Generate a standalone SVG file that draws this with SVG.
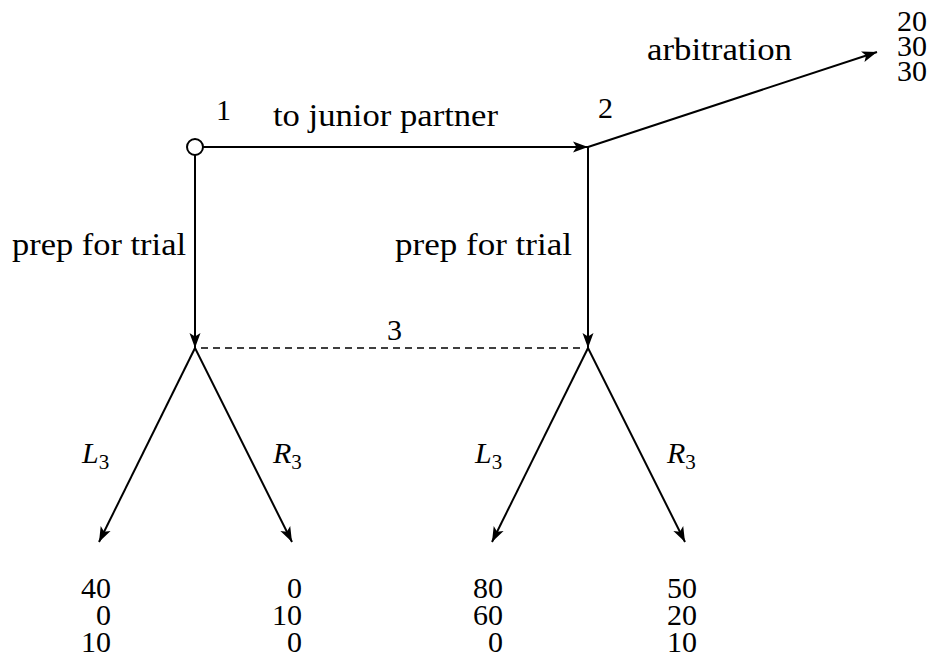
<svg xmlns="http://www.w3.org/2000/svg" width="931" height="659" viewBox="0 0 931 659" font-family="Liberation Serif, serif" font-size="30">
<style>
text{font-size:30px;fill:#000}
.lb{font-size:31px}
.e{stroke:#000;stroke-width:2;fill:none}
.arr{marker-end:url(#ah)}
.d{stroke:#000;stroke-width:1.3;stroke-dasharray:7 5;fill:none}
.it{font-style:italic}
.sub{font-size:21px;font-style:normal}
.r{text-anchor:end}
</style>
<defs>
<marker id="ah" markerUnits="userSpaceOnUse" markerWidth="20" markerHeight="14" refX="16" refY="7" orient="auto" overflow="visible">
<path d="M16,7 L1,1.5 L4.5,7 L1,12.5 Z" fill="#000"/>
</marker>
</defs>
<rect width="931" height="659" fill="#fff"/>
<g id="connectors">
<line class="e arr" x1="203" y1="147" x2="588" y2="147"/>
<line class="e arr" x1="588" y1="147" x2="877" y2="52"/>
<line class="e arr" x1="195" y1="155" x2="195" y2="348"/>
<line class="e arr" x1="588" y1="147" x2="588" y2="348"/>
<line class="d" x1="201" y1="348" x2="582" y2="348"/>
<line class="e arr" x1="195" y1="348" x2="99" y2="542"/>
<line class="e arr" x1="195" y1="348" x2="292" y2="542"/>
<line class="e arr" x1="588" y1="348" x2="492" y2="542"/>
<line class="e arr" x1="588" y1="348" x2="685" y2="542"/>
</g>
<g id="node1">
<circle cx="195" cy="147" r="8" fill="#fff" stroke="#000" stroke-width="2"/>
<text x="216" y="120">1</text>
</g>
<g id="node2">
<text x="598" y="118">2</text>
</g>
<g id="node3">
<text x="387" y="340">3</text>
</g>
<g id="edge-labels">
<text class="lb" x="273" y="126" textLength="225" lengthAdjust="spacingAndGlyphs">to junior partner</text>
<text class="lb" x="647" y="60" textLength="145" lengthAdjust="spacingAndGlyphs">arbitration</text>
<text class="lb" x="12" y="255" textLength="174" lengthAdjust="spacingAndGlyphs">prep for trial</text>
<text class="lb" x="395" y="255" textLength="177" lengthAdjust="spacingAndGlyphs">prep for trial</text>
<text x="82" y="463" class="it">L<tspan class="sub" dy="6">3</tspan></text>
<text x="273" y="463" class="it">R<tspan class="sub" dy="6">3</tspan></text>
<text x="475" y="463" class="it">L<tspan class="sub" dy="6">3</tspan></text>
<text x="667" y="463" class="it">R<tspan class="sub" dy="6">3</tspan></text>
</g>
<g id="payoffs">
<g id="payoff-arbitration">
<text class="r" x="927" y="31">20</text>
<text class="r" x="927" y="56">30</text>
<text class="r" x="927" y="81">30</text>
</g>
<g id="payoff-LL">
<text class="r" x="111" y="598">40</text>
<text class="r" x="111" y="625">0</text>
<text class="r" x="111" y="652">10</text>
</g>
<g id="payoff-LR">
<text class="r" x="302" y="598">0</text>
<text class="r" x="302" y="625">10</text>
<text class="r" x="302" y="652">0</text>
</g>
<g id="payoff-RL">
<text class="r" x="503" y="598">80</text>
<text class="r" x="503" y="625">60</text>
<text class="r" x="503" y="652">0</text>
</g>
<g id="payoff-RR">
<text class="r" x="697" y="598">50</text>
<text class="r" x="697" y="625">20</text>
<text class="r" x="697" y="652">10</text>
</g>
</g>
</svg>
